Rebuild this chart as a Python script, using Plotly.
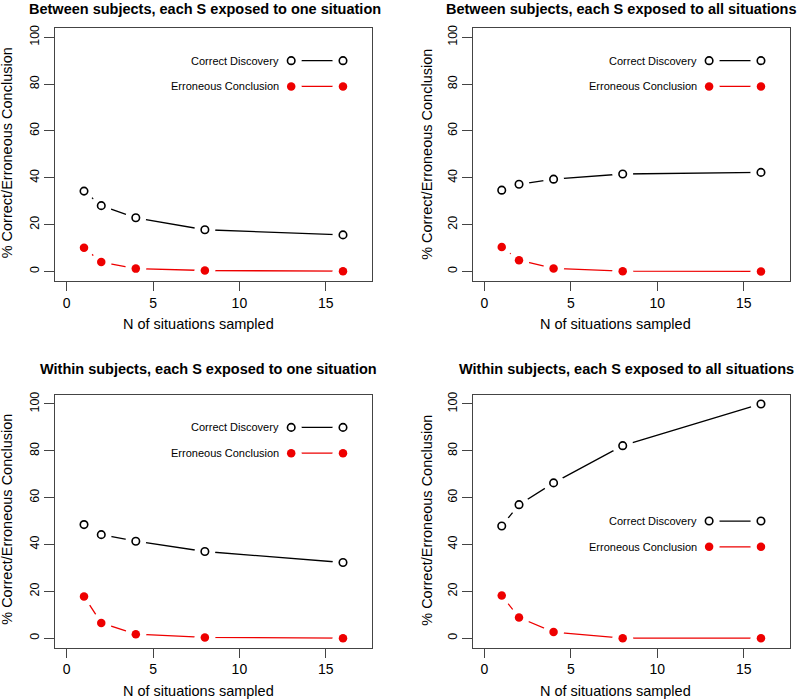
import plotly.graph_objects as go

# ---------------- data ----------------
n_situations = [1, 2, 4, 8, 16]

panel_titles = [
    "Between subjects, each S exposed to one situation",
    "Between subjects, each S exposed to all situations",
    "Within subjects, each S exposed to one situation",
    "Within subjects, each S exposed to all situations",
]

correct_discovery = [
    [34.3, 28.1, 22.9, 17.8, 15.6],
    [34.7, 37.2, 39.4, 41.6, 42.3],
    [48.5, 44.2, 41.4, 37.0, 32.3],
    [47.9, 57.0, 66.3, 82.2, 100.0],
]

erroneous_conclusion = [
    [10.1, 4.0, 1.2, 0.4, 0.1],
    [10.4, 4.8, 1.3, 0.1, 0.0],
    [17.8, 6.5, 1.7, 0.3, 0.0],
    [18.2, 8.8, 2.6, 0.0, 0.0],
]

series_names = ["Correct Discovery", "Erroneous Conclusion"]
legend_x = [13, 16]
legend_y = [
    [90, 79],
    [90, 79],
    [90, 79],
    [50, 39],
]

x_ticks = [0, 5, 10, 15]
y_ticks = [0, 20, 40, 60, 80, 100]
x_label = "N of situations sampled"
y_label = "% Correct/Erroneous Conclusion"

# ---------------- layout geometry (pixels) ----------------
W, H = 800, 699
FONT = "Liberation Sans, Arial, Helvetica, sans-serif"
BOX = "#444444"
RED = "#ee0000"

# plot boxes: (left, right, top, bottom) in px
boxes = [
    (55, 372, 25, 279),
    (472.7, 790, 25, 279),
    (55, 372, 393.3, 647.3),
    (472.7, 790, 393.3, 647.3),
]
title_pos = [(205, 6), (621.5, 6), (208, 368), (626, 368)]
xlab_pos = [(198, 322), (615.7, 322), (198, 691), (615.7, 691)]
ylab_pos = [(7, 151), (427.5, 152), (7, 519), (427, 519)]

def px(x):
    return x / W

def py(y):
    return 1 - y / H

fig = go.Figure()
layout = dict(
    width=W, height=H, autosize=False,
    margin=dict(l=0, r=0, t=0, b=0),
    paper_bgcolor="white", plot_bgcolor="white",
    showlegend=False,
    font=dict(family=FONT, color="black"),
)
annotations = []

for i in range(4):
    xa = "x" if i == 0 else f"x{i+1}"
    ya = "y" if i == 0 else f"y{i+1}"
    xkey = "xaxis" if i == 0 else f"xaxis{i+1}"
    ykey = "yaxis" if i == 0 else f"yaxis{i+1}"
    l, r, t, b = boxes[i]
    layout[xkey] = dict(
        domain=[px(l), px(r)], anchor=ya, range=[-0.68, 17.68],
        showgrid=False, zeroline=False, showline=True, mirror=True,
        linecolor=BOX, linewidth=1, ticks="outside", ticklen=9,
        tickcolor=BOX, tickwidth=1, tickvals=x_ticks,
        tickfont=dict(size=14, family=FONT, color="black"),
    )
    layout[ykey] = dict(
        domain=[py(b), py(t)], anchor=xa, range=[-4, 104],
        showgrid=False, zeroline=False, showline=True, mirror=True,
        linecolor=BOX, linewidth=1, ticks="outside", ticklen=10,
        tickcolor=BOX, tickwidth=1, tickvals=y_ticks, tickangle=-90,
        tickfont=dict(size=12.5, family=FONT, color="black"),
    )

    cd = correct_discovery[i]
    ec = erroneous_conclusion[i]
    lx = legend_x
    ly = legend_y[i]

    # connecting lines (data + legend samples)
    for ys, col in ((cd, "black"), (ec, RED)):
        fig.add_trace(go.Scatter(x=n_situations, y=ys, mode="lines",
                                 line=dict(color=col, width=1.3),
                                 xaxis=xa, yaxis=ya, hoverinfo="skip"))
    for k, col in enumerate(("black", RED)):
        fig.add_trace(go.Scatter(x=lx, y=[ly[k]] * 2, mode="lines",
                                 line=dict(color=col, width=1.3),
                                 xaxis=xa, yaxis=ya, hoverinfo="skip"))
    # white halos to produce R type="b" gaps around points
    hx = n_situations * 2 + lx * 2
    hy = cd + ec + [ly[0]] * 2 + [ly[1]] * 2
    fig.add_trace(go.Scatter(x=hx, y=hy, mode="markers",
                             marker=dict(symbol="circle", size=21, color="white",
                                         line=dict(width=0)),
                             xaxis=xa, yaxis=ya, hoverinfo="skip"))
    # markers
    fig.add_trace(go.Scatter(x=n_situations + lx, y=cd + [ly[0]] * 2, mode="markers",
                             name=series_names[0],
                             marker=dict(symbol="circle", size=7.5, color="white",
                                         line=dict(color="black", width=1.6)),
                             xaxis=xa, yaxis=ya))
    fig.add_trace(go.Scatter(x=n_situations + lx, y=ec + [ly[1]] * 2, mode="markers",
                             name=series_names[1],
                             marker=dict(symbol="circle", size=8.5, color=RED,
                                         line=dict(width=0)),
                             xaxis=xa, yaxis=ya))

    # legend texts
    for k in range(2):
        annotations.append(dict(
            x=12.4, y=ly[k], xref=xa, yref=ya, text=series_names[k],
            showarrow=False, xanchor="right", yanchor="middle",
            font=dict(size=11, family=FONT, color="black")))

    # titles and axis labels
    tx, ty = title_pos[i]
    annotations.append(dict(
        x=px(tx), y=py(ty), xref="paper", yref="paper", text="<b>%s</b>" % panel_titles[i],
        showarrow=False, xanchor="center", yanchor="middle",
        font=dict(size=14.5, family=FONT, color="black")))
    ax_, ay_ = xlab_pos[i]
    annotations.append(dict(
        x=px(ax_), y=py(ay_), xref="paper", yref="paper", text=x_label,
        showarrow=False, xanchor="center", yanchor="middle",
        font=dict(size=14.5, family=FONT, color="black")))
    bx_, by_ = ylab_pos[i]
    annotations.append(dict(
        x=px(bx_), y=py(by_), xref="paper", yref="paper", text=y_label,
        showarrow=False, xanchor="center", yanchor="middle", textangle=-90,
        font=dict(size=14.5, family=FONT, color="black")))

layout["annotations"] = annotations
fig.update_layout(**layout)
fig.write_html("out.html", config={"displayModeBar": False},
               post_script="document.body.style.margin='0px';document.body.style.padding='0px';")
